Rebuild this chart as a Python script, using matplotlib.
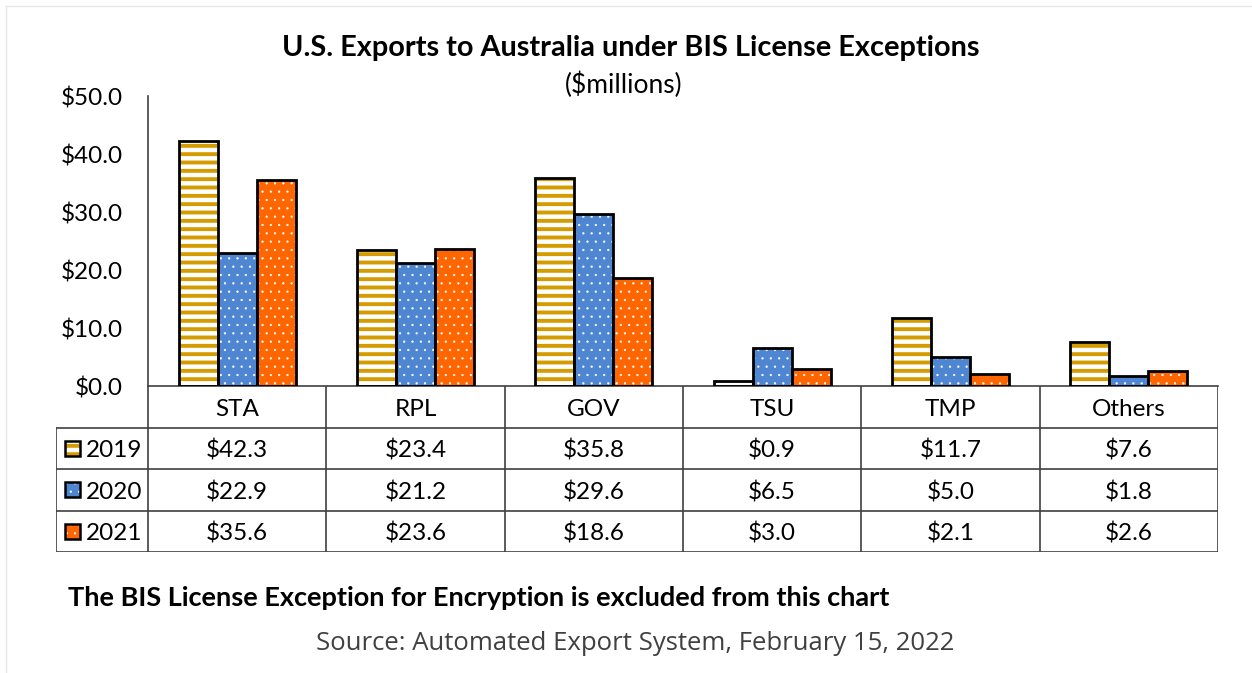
import matplotlib
matplotlib.use('Agg')
import matplotlib.pyplot as plt
from matplotlib.patches import Rectangle
import numpy as np

plt.rcParams['font.family'] = ['Lato', 'DejaVu Sans']

categories = ['STA', 'RPL', 'GOV', 'TSU', 'TMP', 'Others']
years = ['2019', '2020', '2021']
v2019 = [42.3, 23.4, 35.8, 0.9, 11.7, 7.6]
v2020 = [22.9, 21.2, 29.6, 6.5, 5.0, 1.8]
v2021 = [35.6, 23.6, 18.6, 3.0, 2.1, 2.6]
series = [v2019, v2020, v2021]
yticks = [0, 10, 20, 30, 40, 50]

# fill colour, hatch colour, hatch pattern, hatch line width per year
styles = [('white', '#D49C00', '--', 2.8),
          ('#4E86D2', 'white', '..', 0.4),
          ('#FF6600', 'white', '..', 0.4)]

W, H = 1252, 673
fig = plt.figure(figsize=(W / 100, H / 100), dpi=100)

def px(x0, y0, x1, y1):
    # pixel box -> figure fraction [left, bottom, width, height]
    return [x0 / W, 1 - y1 / H, (x1 - x0) / W, (y1 - y0) / H]

def hatched(patches, hlw):
    for p in patches:
        if hasattr(p, 'set_hatch_linewidth'):
            p.set_hatch_linewidth(hlw)

line_col = '#404040'
fs = 17.5

ax = fig.add_axes(px(148, 96, 1218, 386))
x = np.arange(len(categories))
bw = 0.219
for i, vals in enumerate(series):
    fc, hc, hatch, hlw = styles[i]
    pos = x + (i - 1) * bw
    with plt.rc_context({'hatch.linewidth': hlw}):
        b = ax.bar(pos, vals, bw, color=fc, hatch=hatch, edgecolor=hc, linewidth=0, zorder=2)
    hatched(b, hlw)
    ax.bar(pos, vals, bw, fill=False, edgecolor='black', linewidth=2, zorder=3)

ax.set_xlim(-0.5, 5.5)
ax.set_ylim(0, 50)
ax.set_yticks(yticks)
ax.set_yticklabels(['${:.1f}'.format(t) for t in yticks], fontsize=fs)
ax.tick_params(axis='y', length=0, pad=18)
ax.set_xticks([])
for s in ['top', 'right']:
    ax.spines[s].set_visible(False)
for s in ['left', 'bottom']:
    ax.spines[s].set_color(line_col)
    ax.spines[s].set_linewidth(1.2)

# data table below the plot
unit = (1218 - 148) / 6.0
x_left = -0.5 - (148 - 56) / unit
tax = fig.add_axes(px(56, 386, 1218, 552))
tax.set_xlim(x_left, 5.5)
tax.set_ylim(0, 4)
tax.axis('off')
lk = dict(color=line_col, linewidth=1.2, solid_capstyle='projecting')
for r in range(4):
    tax.plot([x_left, 5.5], [r, r], **lk)
for c in range(7):
    tax.plot([c - 0.5, c - 0.5], [0, 4], **lk)
tax.plot([x_left, x_left], [0, 3], **lk)

dy = 0.06  # nudge text down a little
for j, cat in enumerate(categories):
    tax.text(j, 3.5 - dy, cat, ha='center', va='center', fontsize=fs)
for i, vals in enumerate(series):
    row = 2.5 - i
    for j, v in enumerate(vals):
        tax.text(j, row - dy, '${:.1f}'.format(v), ha='center', va='center', fontsize=fs)
    fc, hc, hatch, hlw = styles[i]
    kx = x_left + 9 / unit
    kw = 15 / unit
    kh = 15 / 41.5
    with plt.rc_context({'hatch.linewidth': hlw}):
        k = Rectangle((kx, row - kh / 2), kw, kh, facecolor=fc, hatch=hatch,
                      edgecolor=hc, linewidth=0)
    hatched([k], hlw)
    tax.add_patch(k)
    tax.add_patch(Rectangle((kx, row - kh / 2), kw, kh, fill=False,
                            edgecolor='black', linewidth=1.8))
    tax.text(kx + kw + 6 / unit, row - dy, years[i], ha='left', va='center', fontsize=fs)

fig.text(631 / W, 1 - 48 / H, 'U.S. Exports to Australia under BIS License Exceptions',
         ha='center', va='center', fontsize=20.8, fontweight='bold')
fig.text(624 / W, 1 - 85 / H, '($millions)', ha='center', va='center', fontsize=19)
fig.text(68 / W, 1 - 598 / H, 'The BIS License Exception for Encryption is excluded from this chart',
         ha='left', va='center', fontsize=19.5, fontweight='bold')
fig.text(635 / W, 1 - 643 / H, 'Source: Automated Export System, February 15, 2022',
         ha='center', va='center', fontsize=18.5, color='#404040',
         family=['Open Sans', 'DejaVu Sans'])

# faint frame along top and left edges
fig.add_artist(plt.Line2D([6 / W, 6 / W], [0, 1 - 6 / H], color='#e6e6e6', linewidth=1))
fig.add_artist(plt.Line2D([6 / W, 1], [1 - 6 / H, 1 - 6 / H], color='#e6e6e6', linewidth=1))

fig.savefig('out.png', dpi=100)
